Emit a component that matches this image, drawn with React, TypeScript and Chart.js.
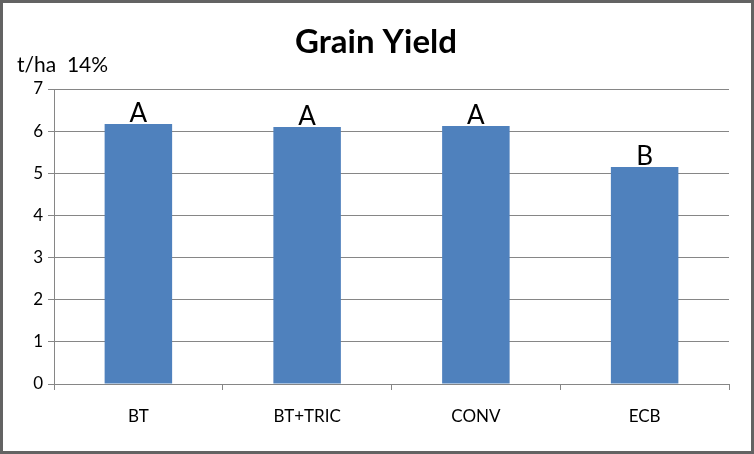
import React, { useEffect, useRef } from "react";
import { Chart, registerables } from "chart.js";

Chart.register(...registerables);

const categories = ["BT", "BT+TRIC", "CONV", "ECB"];
const yieldValues = [6.17, 6.1, 6.12, 5.15];
const groupLetters = ["A", "A", "A", "B"];
const yTicks = [0, 1, 2, 3, 4, 5, 6, 7];
const titleText = "Grain Yield";
const yAxisLabel = "t/ha  14%";

const FONT = "Lato, 'Open Sans', sans-serif";

export default function App() {
  const ref = useRef<HTMLCanvasElement | null>(null);

  useEffect(() => {
    if (!ref.current) return;
    const annot = {
      id: "annot",
      afterDatasetsDraw(chart: any) {
        const ctx = chart.ctx;
        const meta = chart.getDatasetMeta(0);
        ctx.save();
        ctx.fillStyle = "#000";
        ctx.font = `26px ${FONT}`;
        ctx.textAlign = "center";
        ctx.textBaseline = "alphabetic";
        meta.data.forEach((el: any, i: number) => {
          ctx.fillText(groupLetters[i], el.x, el.y - 2);
        });
        ctx.restore();
      },
      afterDraw(chart: any) {
        const ctx = chart.ctx;
        ctx.save();
        ctx.fillStyle = "#000";
        ctx.font = `bold 33px ${FONT}`;
        ctx.textAlign = "center";
        ctx.textBaseline = "middle";
        ctx.fillText(titleText, 373, 39);
        ctx.font = `21px ${FONT}`;
        ctx.textAlign = "left";
        ctx.fillText(yAxisLabel, 14, 62);
        ctx.restore();
      },
    };
    const chart = new Chart(ref.current, {
      type: "bar",
      data: {
        labels: categories,
        datasets: [
          {
            data: yieldValues,
            backgroundColor: "#4F81BD",
            borderWidth: 0,
            barPercentage: 1,
            categoryPercentage: 0.4,
          },
        ],
      },
      options: {
        responsive: false,
        animation: false,
        maintainAspectRatio: false,
        layout: { padding: { top: 86, right: 22, left: 0, bottom: 0 } },
        plugins: {
          legend: { display: false },
          title: { display: false },
          tooltip: { enabled: false },
        },
        scales: {
          x: {
            afterFit(scale: any) {
              scale.height = 67;
            },
            grid: {
              offset: true,
              drawOnChartArea: false,
              color: "#868686",
              tickLength: 6,
            },
            border: { color: "#868686" },
            ticks: {
              color: "#000",
              font: { family: FONT, size: 17 },
              padding: 16,
            },
          },
          y: {
            min: 0,
            max: 7,
            afterFit(scale: any) {
              scale.width = 51;
            },
            afterBuildTicks(scale: any) {
              scale.ticks = yTicks.map((v) => ({ value: v }));
            },
            grid: {
              color: "#868686",
              tickLength: 6,
            },
            border: { color: "#868686" },
            ticks: {
              color: "#000",
              font: { family: FONT, size: 17 },
              padding: 5,
            },
          },
        },
      },
      plugins: [annot],
    });
    return () => chart.destroy();
  }, []);

  return (
    <div
      style={{
        position: "absolute",
        left: 0,
        top: 0,
        width: 754,
        height: 454,
        boxSizing: "border-box",
        border: "3px solid #636363",
        background: "#fff",
      }}
    >
      <canvas ref={ref} width={748} height={448} style={{ display: "block" }} />
    </div>
  );
}
